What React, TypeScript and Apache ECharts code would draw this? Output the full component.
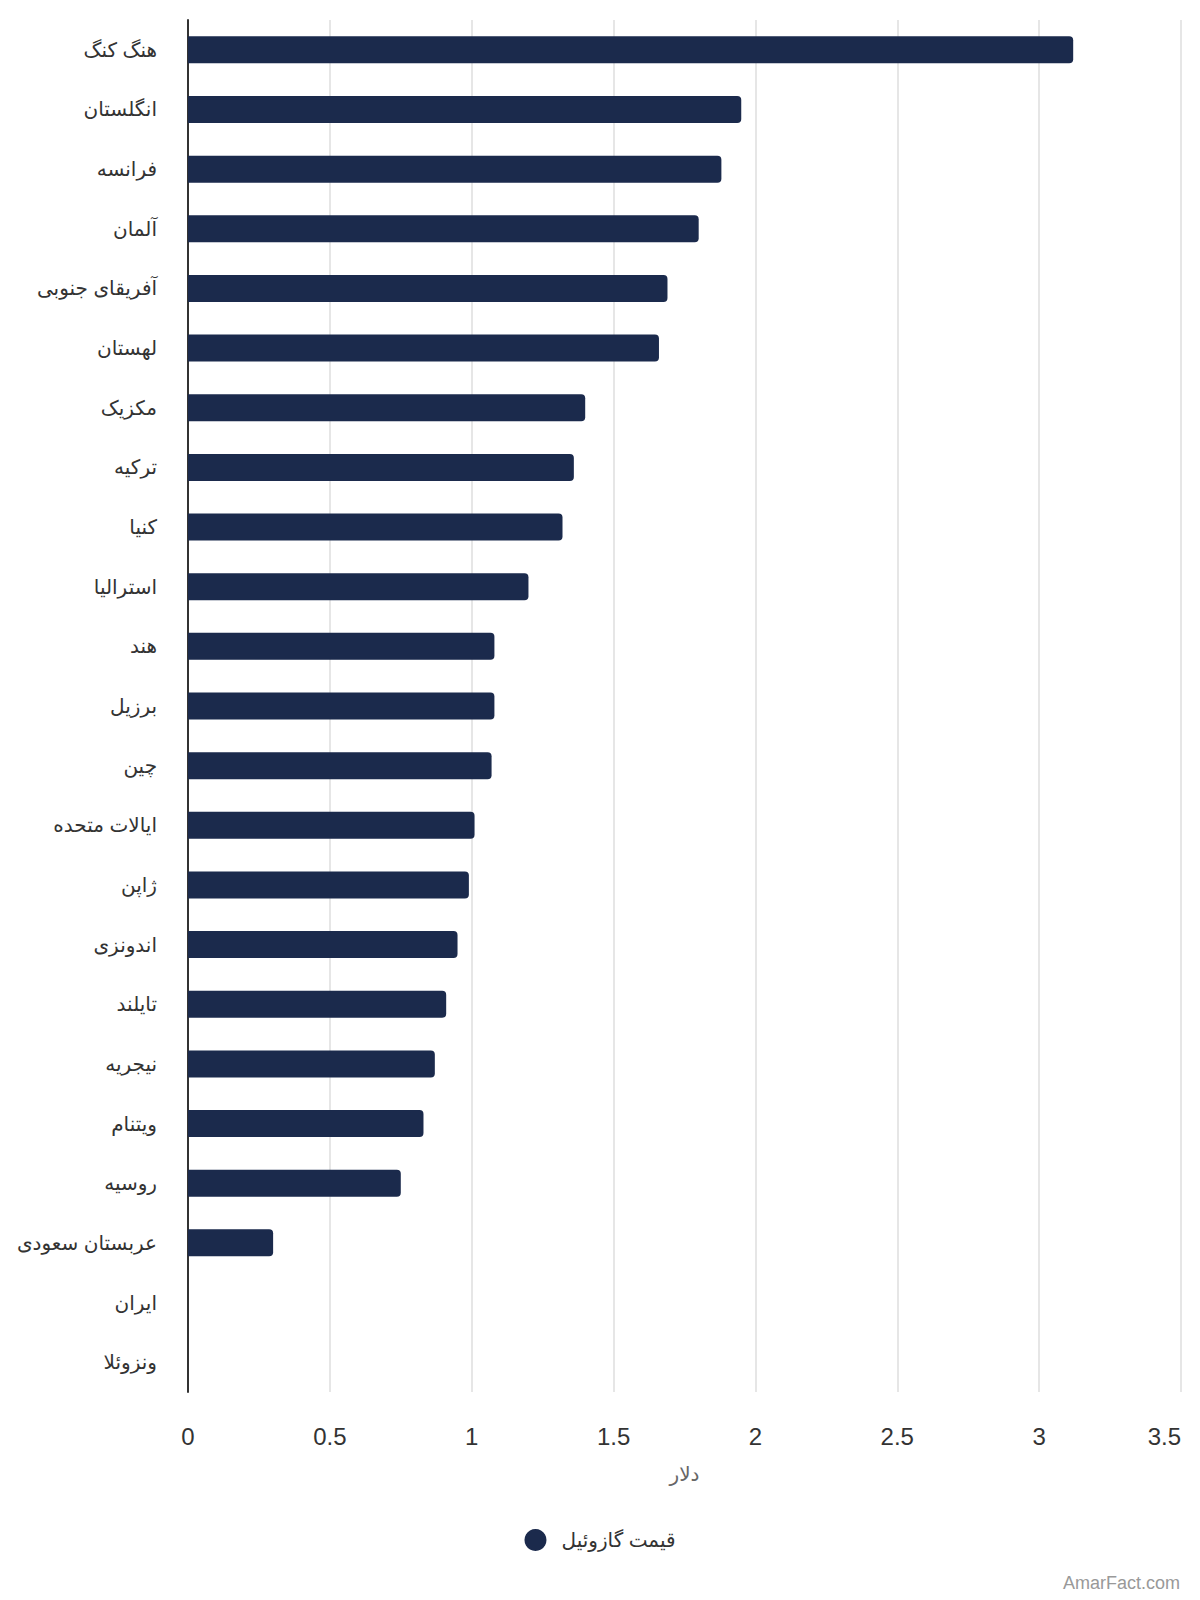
import React, { useEffect, useRef } from "react";
import * as echarts from "echarts";

const countries = [
  "هنگ کنگ",
  "انگلستان",
  "فرانسه",
  "آلمان",
  "آفریقای جنوبی",
  "لهستان",
  "مکزیک",
  "ترکیه",
  "کنیا",
  "استرالیا",
  "هند",
  "برزیل",
  "چین",
  "ایالات متحده",
  "ژاپن",
  "اندونزی",
  "تایلند",
  "نیجریه",
  "ویتنام",
  "روسیه",
  "عربستان سعودی",
  "ایران",
  "ونزوئلا",
];

const dieselPrice = [
  3.12, 1.95, 1.88, 1.8, 1.69, 1.66, 1.4, 1.36, 1.32, 1.2, 1.08, 1.08, 1.07,
  1.01, 0.99, 0.95, 0.91, 0.87, 0.83, 0.75, 0.3, 0, 0,
];

const seriesName = "قیمت گازوئیل";
const axisName = "دلار";
const watermark = "AmarFact.com";

const FONT = "Arial, 'Liberation Sans', 'DejaVu Sans', sans-serif";

export default function App() {
  const ref = useRef<HTMLDivElement>(null);

  useEffect(() => {
    document.body.style.margin = "0";
    if (!ref.current) return;
    const chart = echarts.init(ref.current, undefined, { renderer: "svg" });
    chart.setOption({
      animation: false,
      backgroundColor: "#ffffff",
      textStyle: { fontFamily: FONT },
      grid: { left: 188, right: 19, top: 20, bottom: 208, containLabel: false },
      xAxis: {
        type: "value",
        min: 0,
        max: 3.5,
        interval: 0.5,
        name: axisName,
        nameLocation: "middle",
        nameGap: 72,
        nameTextStyle: { fontSize: 20, color: "#666666", fontFamily: FONT },
        axisLine: { show: false },
        axisTick: { show: false },
        axisLabel: {
          fontSize: 24,
          color: "#333333",
          margin: 32,
          alignMaxLabel: "right",
          fontFamily: FONT,
        },
        splitLine: { show: true, lineStyle: { color: "#e6e6e6", width: 2 } },
      },
      yAxis: {
        type: "category",
        data: countries,
        inverse: true,
        axisLine: { show: true, lineStyle: { color: "#333333", width: 2 } },
        axisTick: { show: false },
        axisLabel: {
          fontSize: 20,
          color: "#333333",
          margin: 31,
          fontFamily: FONT,
        },
        splitLine: { show: false },
      },
      legend: {
        data: [seriesName],
        left: "center",
        top: 1524,
        icon: "circle",
        itemWidth: 22,
        itemHeight: 22,
        itemGap: 10,
        textStyle: {
          fontSize: 20,
          color: "#333333",
          fontFamily: FONT,
          padding: [0, 0, 0, 10],
        },
      },
      series: [
        {
          name: seriesName,
          type: "bar",
          data: dieselPrice,
          barWidth: 27,
          itemStyle: { color: "#1b2a4c", borderRadius: [0, 4, 4, 0] },
        },
      ],
      graphic: [
        {
          type: "text",
          right: 20,
          bottom: 8,
          style: {
            text: watermark,
            fontSize: 18,
            fill: "#999999",
            fontFamily: FONT,
          },
        },
      ],
    });
    return () => chart.dispose();
  }, []);

  return <div ref={ref} style={{ width: 1200, height: 1600 }} />;
}
